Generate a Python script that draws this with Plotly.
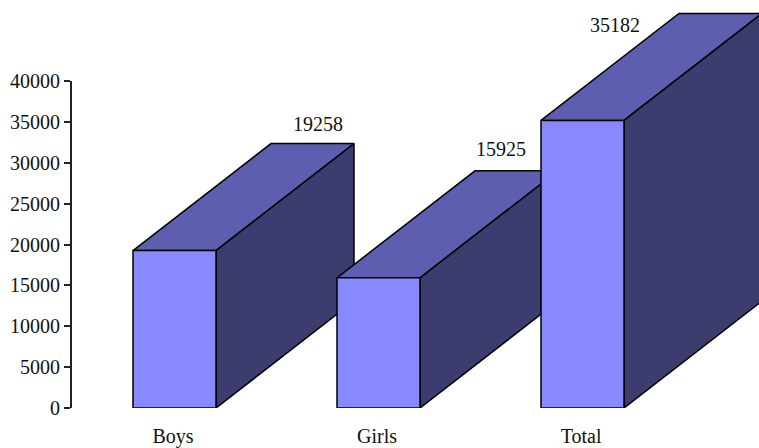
import plotly.graph_objects as go

categories = ["Boys", "Girls", "Total"]
values = [19258, 15925, 35182]
y_ticks = [0, 5000, 10000, 15000, 20000, 25000, 30000, 35000, 40000]

# Plot geometry (layout only)
W, H = 759, 448
ML, MB = 71, 40
PX_PER_UNIT = 327 / 40000
BAR_STEP_PX = 204
BAR_W = 83 / BAR_STEP_PX
FIRST_LEFT_PX = 133
DEPTH_X = 138 / BAR_STEP_PX
DEPTH_Y = 107 / PX_PER_UNIT
X0 = (ML - FIRST_LEFT_PX) / BAR_STEP_PX
X1 = (W - FIRST_LEFT_PX) / BAR_STEP_PX
Y1 = (H - MB) / PX_PER_UNIT

# Label offset from each bar's back-left top corner, in px
label_dx = [47, 26, -64]
label_dy = [20, 22, -12]

FRONT, TOP, SIDE = "#8888ff", "#5e5eb0", "#3c3c6e"
FONT = dict(family="Liberation Serif", size=20, color="#111111")

fig = go.Figure()


def face(xs, ys, color):
    fig.add_trace(go.Scatter(
        x=xs, y=ys, mode="lines", fill="toself", fillcolor=color,
        line=dict(color="#000000", width=1.5), hoverinfo="skip", showlegend=False,
    ))


for i, v in enumerate(values):
    l, r = i, i + BAR_W
    face([l, l + DEPTH_X, r + DEPTH_X, r, l], [v, v + DEPTH_Y, v + DEPTH_Y, v, v], TOP)
    face([r, r + DEPTH_X, r + DEPTH_X, r, r], [0, DEPTH_Y, v + DEPTH_Y, v, 0], SIDE)
    face([l, r, r, l, l], [0, 0, v, v, 0], FRONT)
    fig.add_annotation(
        x=l + DEPTH_X + label_dx[i] / BAR_STEP_PX,
        y=v + DEPTH_Y + label_dy[i] / PX_PER_UNIT,
        text=str(v), showarrow=False, font=FONT, xanchor="center", yanchor="middle",
    )

# Value axis line stops at the top tick
fig.add_shape(
    type="line", xref="paper", yref="y", x0=0, x1=0, y0=0, y1=y_ticks[-1],
    line=dict(color="#222222", width=2), layer="above",
)

fig.update_layout(
    width=W, height=H, margin=dict(l=ML, r=0, t=0, b=MB),
    paper_bgcolor="white", plot_bgcolor="white", showlegend=False,
    xaxis=dict(
        range=[X0, X1], showgrid=False, zeroline=False, showline=False, ticks="",
        tickvals=[i + BAR_W / 2 - 0.007 for i in range(len(categories))],
        ticktext=categories, tickfont=FONT, ticklabelstandoff=14,
    ),
    yaxis=dict(
        range=[0, Y1], showgrid=False, zeroline=False, showline=False,
        ticks="outside", ticklen=6, tickwidth=2, tickcolor="#222222",
        tickvals=y_ticks, ticktext=[str(t) for t in y_ticks], tickfont=FONT,
    ),
)

fig.write_html(
    "out.html",
    config=dict(displayModeBar=False),
    post_script="document.body.style.margin='0';document.documentElement.style.overflow='hidden';",
)
